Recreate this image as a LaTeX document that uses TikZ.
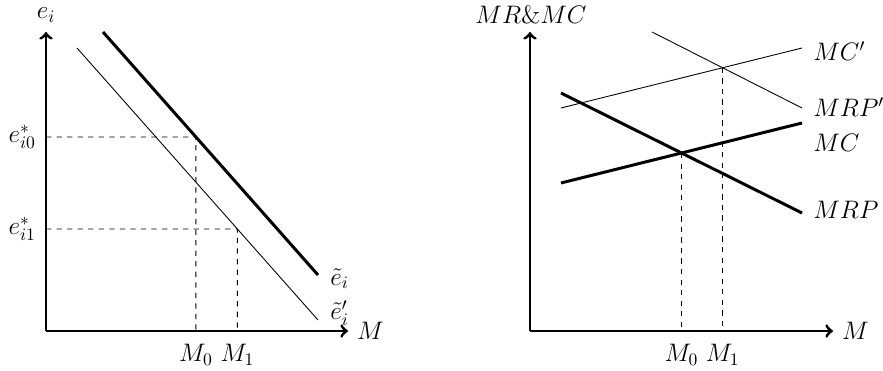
\documentclass[tikz,border=0pt]{standalone}
\usetikzlibrary{positioning}
\tikzset{
  axis/.style={->, line width=1.7pt},
  curve/.style={-, line width=1.7pt},
  shifted/.style={-, line width=0.5pt},
  guide/.style={dashed, line width=0.5pt},
  every node/.style={font=\Large}
}
\begin{document}
\begin{tikzpicture}
\useasboundingbox (-0.92,-0.8) rectangle (16.74,6.62);
% left panel: effort against M
\coordinate (lo) at (0,0);
\coordinate (lytip) at (0,5.98);
\coordinate (lxtip) at (6.04,0);
\draw[axis] (lo) -- (lytip);
\draw[axis] (lo) -- (lxtip);
\node[inner sep=1pt] (ly) at (0,6.32) {$e_i$};
\node[right] (lx) at (6.1,0) {$M$};

\coordinate (ea) at (1.14,5.98);
\coordinate (eb) at (5.44,1.12);
\coordinate (fa) at (0.62,5.66);
\coordinate (fb) at (5.44,0.22);
\draw[curve] (ea) -- (eb);
\draw[shifted] (fa) -- (fb);
\node[right=0.24 of eb, inner sep=0pt, yshift=-2pt] (el) {$\tilde{e}_i$};
\node[right=0.24 of fb, inner sep=0pt, yshift=4pt] (fl) {$\tilde{e}_i'$};

\coordinate (e0) at (0,3.88);
\coordinate (e1) at (0,2.04);
\coordinate (p0) at (intersection of ea--eb and e0--3,3.88);
\coordinate (p1) at (intersection of fa--fb and e1--3,2.04);
\draw[guide] (e0) -- (p0) -- (p0 |- lo);
\draw[guide] (e1) -- (p1) -- (p1 |- lo);
\node[left=0.08 of e0] (e0l) {$e_{i0}^*$};
\node[left=0.08 of e1] (e1l) {$e_{i1}^*$};
\node[below=0.14 of p0 |- lo] (m0l) {$M_0$};
\node[below=0.14 of p1 |- lo] (m1l) {$M_1$};

% right panel: marginal revenue and cost
\begin{scope}[xshift=9.68cm]
\coordinate (ro) at (0,0);
\coordinate (rytip) at (0,5.98);
\coordinate (rxtip) at (6.06,0);
\draw[axis] (ro) -- (rytip);
\draw[axis] (ro) -- (rxtip);
\node[inner sep=1pt] (ry) at (0.02,6.32) {$MR\&MC$};
\node[right] (rx) at (6.12,0) {$M$};

\coordinate (ma) at (0.62,4.76);
\coordinate (mb) at (5.44,2.36);
\coordinate (ca) at (0.62,2.96);
\coordinate (cb) at (5.44,4.16);
\coordinate (na) at (2.44,5.98);
\coordinate (nb) at (5.44,4.46);
\coordinate (da) at (0.62,4.46);
\coordinate (db) at (5.44,5.66);
\draw[curve] (ma) -- (mb);
\draw[curve] (ca) -- (cb);
\draw[shifted] (na) -- (nb);
\draw[shifted] (da) -- (db);
\node[anchor=west, inner sep=0pt] (dl) at (5.66,5.6) {$MC'$};
\node[anchor=west, inner sep=0pt] (nl) at (5.66,4.48) {$MRP'$};
\node[anchor=west, inner sep=0pt] (cl) at (5.66,3.76) {$MC$};
\node[anchor=west, inner sep=0pt] (ml) at (5.66,2.42) {$MRP$};

\coordinate (q0) at (intersection of ma--mb and ca--cb);
\coordinate (q1) at (intersection of na--nb and da--db);
\draw[guide] (q0) -- (q0 |- ro);
\draw[guide] (q1) -- (q1 |- ro);
\node[below=0.14 of q0 |- ro] (r0l) {$M_0$};
\node[below=0.14 of q1 |- ro] (r1l) {$M_1$};
\end{scope}
\end{tikzpicture}
\end{document}
